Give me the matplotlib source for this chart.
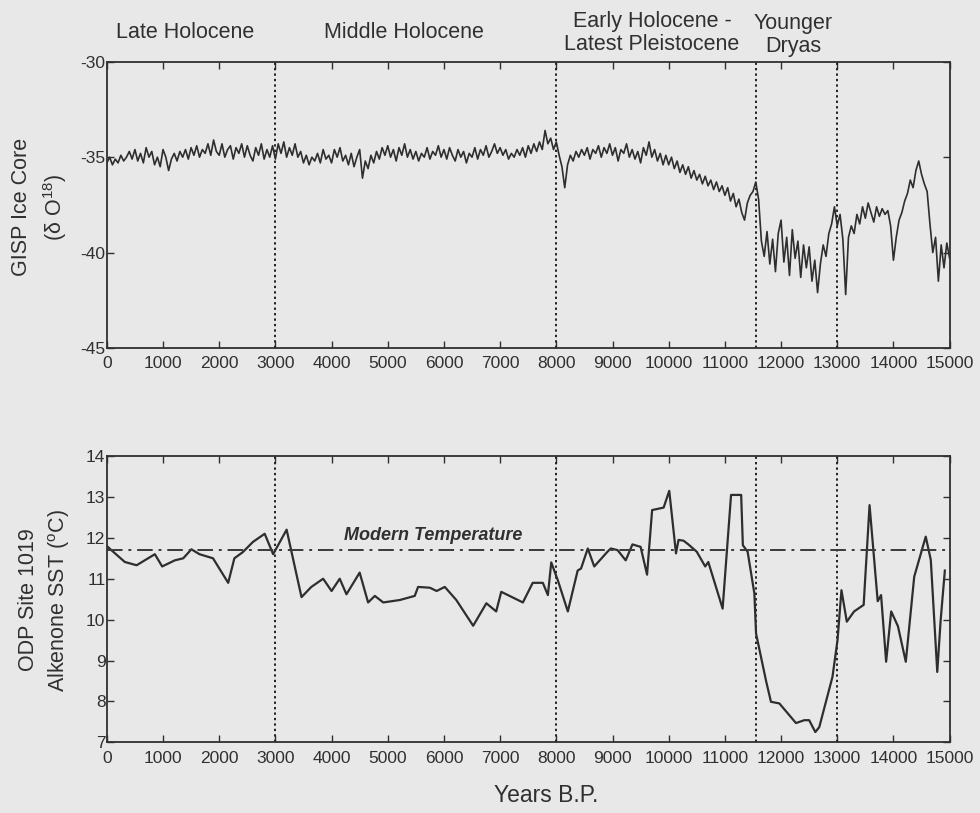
import numpy as np
import matplotlib
matplotlib.use("Agg")
import matplotlib.pyplot as plt

plt.rcParams['font.family'] = ['Liberation Sans', 'DejaVu Sans']
plt.rcParams['mathtext.default'] = 'regular'
plt.rcParams['axes.unicode_minus'] = False

BG = '#e8e8e8'
INK = '#303030'

# GISP2 ice core d18O, read every 50 years from 0 to 15000 yr B.P.
gisp_years = np.arange(0, 15001, 50)
gisp_d18o = [
    -35.3, -35.0, -35.4, -35.1, -35.3, -34.9, -35.2, -35.0, -34.7, -35.1, -34.6, -35.2, -34.8, -35.3, -34.5, -35.0, -34.7, -35.4, -35.0, -35.5,
    -34.6, -35.0, -35.7, -35.1, -34.8, -35.2, -34.7, -35.0, -34.6, -35.1, -34.5, -34.9, -34.4, -35.0, -34.6, -34.8, -34.3, -34.9, -34.1, -34.7,
    -34.9, -34.3, -35.0, -34.6, -34.4, -35.1, -34.5, -34.8, -34.3, -35.0, -34.4, -34.9, -35.2, -34.5, -34.9, -34.3, -35.1, -34.6, -35.0, -34.4,
    -35.1, -34.3, -34.8, -34.2, -35.0, -34.5, -34.9, -34.3, -35.0, -34.7, -35.3, -34.9, -35.4, -35.0, -35.2, -34.8, -35.3, -34.6, -35.1, -34.9,
    -35.3, -34.6, -35.0, -34.5, -35.2, -34.9, -35.4, -34.8, -35.5, -35.0, -34.6, -36.1, -35.2, -35.6, -34.9, -35.3, -34.7, -35.1, -34.5, -34.9,
    -34.4, -35.0, -34.6, -35.2, -34.5, -34.9, -34.3, -35.0, -34.6, -35.1, -34.7, -35.2, -34.8, -35.0, -34.5, -35.1, -34.7, -34.9, -34.4, -35.0,
    -34.6, -35.1, -34.5, -34.9, -35.2, -34.6, -35.0, -34.7, -35.3, -34.8, -35.0, -34.5, -35.1, -34.6, -34.9, -34.4, -35.0, -34.7, -34.3, -34.8,
    -34.5, -34.9, -34.6, -35.1, -34.8, -35.0, -34.6, -34.9, -34.5, -35.0, -34.4, -34.8, -34.3, -34.7, -34.2, -34.6, -33.6, -34.3, -34.0, -34.6,
    -34.2, -34.9, -35.5, -36.6, -35.4, -34.9, -35.2, -34.7, -35.0, -34.6, -34.9, -34.5, -35.1, -34.6, -34.8, -34.4, -35.0, -34.5, -34.8, -34.3,
    -34.9, -34.5, -35.2, -34.6, -34.8, -34.3, -35.0, -34.6, -35.1, -34.7, -35.3, -34.5, -34.9, -34.2, -35.0, -34.6, -35.2, -34.8, -35.4, -34.9,
    -35.4, -35.0, -35.6, -35.2, -35.8, -35.4, -35.9, -35.5, -36.1, -35.7, -36.2, -35.9, -36.4, -36.0, -36.5, -36.2, -36.7, -36.3, -36.8, -36.5,
    -37.0, -36.6, -37.3, -36.9, -37.6, -37.2, -37.9, -38.3, -37.4, -37.0, -36.8, -36.3,
    -37.2, -39.4, -40.2, -38.9, -40.6, -39.3, -41.0, -39.0, -38.3, -40.5, -39.2, -41.2, -38.8, -40.3,
    -39.4, -41.3, -39.6, -40.8, -39.7, -41.5, -40.4, -42.1, -40.6, -39.6, -40.2, -39.0, -38.5, -37.6,
    -38.6, -38.0, -39.3, -42.2, -39.2, -38.6, -39.0, -38.0, -38.5, -37.6, -38.2, -37.4, -37.9, -38.4, -37.6, -38.1, -37.7, -38.0, -37.8, -38.6,
    -40.4, -39.2, -38.3, -37.9, -37.3, -36.9, -36.2, -36.6, -35.7, -35.2, -35.9, -36.4, -36.8, -38.5, -40.0, -39.2, -41.5, -39.6, -40.8, -39.5,
    -40.3,
]

# ODP Site 1019 alkenone SST
sst_years = [
    0, 80, 320, 530, 855, 985, 1210, 1360, 1505, 1650, 1890, 2160, 2270, 2420, 2600, 2810, 2960, 3200,
    3465, 3640, 3850, 4000, 4145, 4265, 4500, 4650, 4770, 4920, 5215, 5480, 5540, 5750, 5870, 6015,
    6220, 6520, 6755, 6930, 7020, 7405, 7580, 7760, 7850, 7910, 8030, 8205, 8380, 8440, 8560, 8675,
    8910, 8970, 9090, 9235, 9355, 9500, 9615, 9705, 9910, 10010, 10130, 10175, 10265, 10350, 10500,
    10650, 10705, 10960, 11110, 11290, 11320, 11405, 11525, 11555, 11730, 11820, 11970, 12265, 12415,
    12500, 12610, 12680, 12915, 13005, 13075, 13170, 13300, 13470, 13575, 13720, 13780, 13870, 13960,
    14080, 14220, 14370, 14575, 14665, 14780, 14840, 14915,
]
sst_values = [
    11.8, 11.7, 11.41, 11.33, 11.6, 11.3, 11.45, 11.5, 11.72, 11.6, 11.5, 10.9, 11.5, 11.65, 11.9, 12.1, 11.6, 12.2,
    10.55, 10.8, 11.0, 10.7, 11.0, 10.62, 11.15, 10.42, 10.58, 10.42, 10.48, 10.58, 10.8, 10.78, 10.7, 10.8,
    10.48, 9.85, 10.4, 10.2, 10.68, 10.42, 10.9, 10.9, 10.6, 11.4, 10.95, 10.2, 11.2, 11.25, 11.74, 11.3,
    11.66, 11.74, 11.7, 11.45, 11.84, 11.78, 11.1, 12.68, 12.74, 13.15, 11.62, 11.95, 11.93, 11.84, 11.66,
    11.3, 11.41, 10.27, 13.05, 13.05, 11.82, 11.66, 10.64, 9.66, 8.52, 7.99, 7.95, 7.47, 7.54,
    7.54, 7.25, 7.37, 8.6, 9.5, 10.72, 9.95, 10.2, 10.36, 12.8, 10.45, 10.6, 8.97, 10.2,
    9.84, 8.97, 11.05, 12.03, 11.46, 8.72, 9.98, 11.2,
]
modern_temp = 11.7

boundaries = [3000, 8000, 11550, 13000]
x_ticks = list(range(0, 15001, 1000))

fig = plt.figure(figsize=(9.8, 8.13), dpi=100, facecolor=BG)
ax1 = fig.add_axes([0.109, 0.572, 0.860, 0.352])
ax2 = fig.add_axes([0.109, 0.087, 0.860, 0.352])


def style_axis(ax):
    ax.set_facecolor(BG)
    ax.set_xlim(0, 15000)
    ax.set_xticks(x_ticks)
    ax.tick_params(direction='in', top=True, right=True, length=5, width=1,
                   color=INK, labelcolor=INK, labelsize=12.5)
    ax.tick_params(axis='x', pad=6)
    ax.tick_params(axis='y', pad=1)
    for s in ax.spines.values():
        s.set_color(INK)
        s.set_linewidth(1.3)
    for b in boundaries:
        ax.axvline(b, color='#222222', linestyle=(0, (1.2, 1.6)), linewidth=1.4)


# top panel
style_axis(ax1)
ax1.plot(gisp_years, gisp_d18o, color='#2e2e2e', linewidth=1.2)
ax1.set_ylim(-45, -30)
ax1.set_yticks([-45, -40, -35, -30])

# bottom panel
style_axis(ax2)
ax2.plot(sst_years, sst_values, color='#2e2e2e', linewidth=1.6)
ax2.axhline(modern_temp, color='#3a3a3a', linestyle=(0, (8, 3, 1.5, 3)), linewidth=1.4)
ax2.set_ylim(7, 14)
ax2.set_yticks(range(7, 15))
ax2.text(5800, 11.86, "Modern Temperature", style='italic', fontweight='bold',
         fontsize=13, color=INK, ha='center', va='bottom')

# period labels above the top panel
lab = dict(fontsize=15.5, color=INK, ha='center')
fig.text(185 / 980, 1 - 32 / 813, "Late Holocene", va='center', **lab)
fig.text(404 / 980, 1 - 32 / 813, "Middle Holocene", va='center', **lab)
fig.text(652 / 980, 1 - 33 / 813, "Early Holocene -\nLatest Pleistocene", va='center',
         linespacing=1.1, **lab)
fig.text(793 / 980, 1 - 35 / 813, "Younger\nDryas", va='center', linespacing=1.1, **lab)

# axis labels
yl = dict(fontsize=15.5, color=INK, rotation=90, ha='center', va='center')
fig.text(22 / 980, 1 - 207 / 813, "GISP Ice Core", **yl)
fig.text(55 / 980, 1 - 207 / 813, r"($\delta$ O$^{18}$)", **yl)
fig.text(28 / 980, 1 - 600 / 813, "ODP Site 1019", **yl)
fig.text(59 / 980, 1 - 600 / 813, "Alkenone SST ($^{o}$C)", **yl)
fig.text(546 / 980, 1 - 795 / 813, "Years B.P.", fontsize=16.5, color=INK,
         ha='center', va='center')

fig.savefig("out.png", dpi=100, facecolor=BG)
